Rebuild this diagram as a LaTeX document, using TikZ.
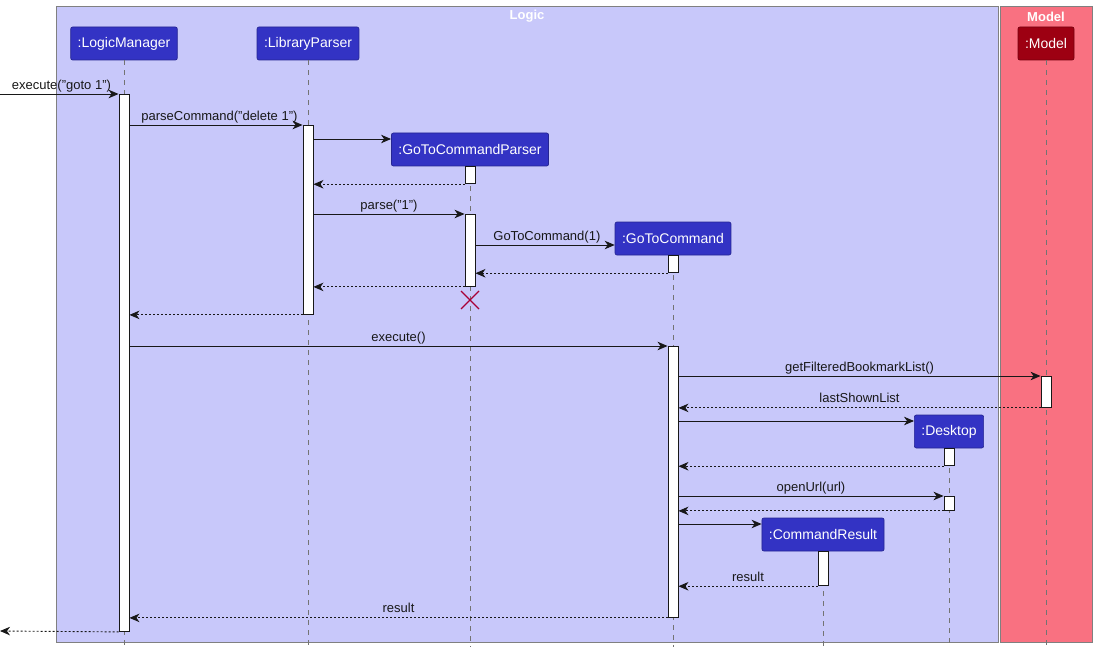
\documentclass[tikz,border=0pt]{standalone}
\usepackage{fontspec}
\setmainfont{Liberation Sans}
\usetikzlibrary{arrows.meta}
\usetikzlibrary{calc}

\definecolor{logicC}{HTML}{3333C4}
\definecolor{logicT}{HTML}{C8C8FA}
\definecolor{modelC}{HTML}{9D0012}
\definecolor{modelT}{HTML}{F97181}
\definecolor{ink}{HTML}{181818}
\definecolor{killC}{HTML}{A80036}

\begin{document}
\begin{tikzpicture}[x=1pt, y=-1pt,
  part/.style={draw=#1!75!black, fill=#1, text=white, rounded corners=2pt,
    minimum height=33pt, inner xsep=7pt, line width=0.7pt,
    font=\fontsize{14}{16}\selectfont},
  part/.default=logicC,
  life/.style={draw=gray!90!black, dash pattern=on 5pt off 5pt, line width=0.6pt},
  act/.style={draw=ink, fill=white, minimum width=10pt, inner sep=0pt, line width=0.9pt},
  msg/.style={draw=ink, line width=0.9pt, -{Stealth[length=10pt, width=8.5pt, inset=3pt]}},
  ret/.style={msg, dash pattern=on 2pt off 2pt},
  lbl/.style={font=\fontsize{13}{15}\selectfont, text=ink, inner sep=1.5pt, text depth=3pt, above},
  title/.style={font=\bfseries\fontsize{13}{15}\selectfont, text=white}
]
\useasboundingbox (0,0) rectangle (1097,655);

% the two boxes
\draw[fill=logicT, draw=gray, line width=0.8pt] (56,6) rectangle (998,642);
\draw[fill=modelT, draw=gray, line width=0.8pt] (1000,6) rectangle (1092,642);
\node[title] (logicT) at (527,16.5) {Logic};
\node[title] (modelT) at (1046,16.5) {Model};

% participants
\node[part] (lm) at (124,43.5) {:LogicManager};
\node[part] (lp) at (308,43.5) {:LibraryParser};
\node[part] (gcp) at (470,149.5) {:GoToCommandParser};
\node[part] (gc) at (673,238.5) {:GoToCommand};
\node[part] (desk) at (949,431.5) {:Desktop};
\node[part] (cr) at (823,534.5) {:CommandResult};
\node[part=modelC] (model) at (1046,43.5) {:Model};

% lifelines
\foreach \p in {lm,lp,gcp,gc,desk,cr,model}
  \draw[life] (\p.south) -- (\p.south |- 0,647);

% activations
\node[act, anchor=north, minimum height=537pt] (lmA) at (lm |- 0,94) {};
\node[act, anchor=north, minimum height=189pt] (lpA) at (lp |- 0,125) {};
\node[act, anchor=north, minimum height=17pt] (gcpA1) at (gcp.south) {};
\node[act, anchor=north, minimum height=72pt] (gcpA2) at (gcp |- 0,214) {};
\node[act, anchor=north, minimum height=17pt] (gcA1) at (gc.south) {};
\node[act, anchor=north, minimum height=271pt] (gcA2) at (gc |- 0,346) {};
\node[act, anchor=north, minimum height=31pt] (mA) at (model |- 0,376) {};
\node[act, anchor=north, minimum height=17pt] (deskA1) at (desk.south) {};
\node[act, anchor=north, minimum height=14pt] (deskA2) at (desk |- 0,496) {};
\node[act, anchor=north, minimum height=34pt] (crA) at (cr.south) {};

% messages
\coordinate (inL) at (0,94);
\coordinate (outL) at (0,631);
\draw[msg] (inL) -- node[lbl, pos=0, anchor=south west, xshift=10pt] {execute("goto 1")} (lmA.north west);
\draw[msg] (lmA.east |- 0,125) -- node[lbl, pos=0, anchor=south west, xshift=10pt] {parseCommand("delete 1")} (lpA.north west);
\draw[msg] (lpA.east |- 0,139) -- (gcp.west |- 0,139);
\draw[ret] (gcpA1.south west) -- (lpA.east |- gcpA1.south west);
\draw[msg] (lpA.east |- 0,214) -- node[lbl] {parse("1")} (gcpA2.north west);
\draw[msg] (gcpA2.east |- 0,245) -- node[lbl, pos=0, anchor=south west, xshift=16pt] {GoToCommand(1)} (gc.west |- 0,245);
\draw[ret] (gcA1.south west) -- (gcpA2.east |- gcA1.south west);
\draw[ret] (gcpA2.south west) -- (lpA.east |- gcpA2.south west);
\coordinate (gcpX) at (gcp |- 0,300);
\draw[killC, line width=1.3pt] ($(gcpX)+(-9,-9)$) -- ($(gcpX)+(9,9)$)
  ($(gcpX)+(-9,9)$) -- ($(gcpX)+(9,-9)$);
\draw[ret] (lpA.south west) -- (lmA.east |- lpA.south west);
\draw[msg] (lmA.east |- 0,346) -- node[lbl] {execute()} (gcA2.north west);
\draw[msg] (gcA2.east |- 0,376) -- node[lbl] {getFilteredBookmarkList()} (mA.north west);
\draw[ret] (mA.south west) -- node[lbl] {lastShownList} (gcA2.east |- mA.south west);
\draw[msg] (gcA2.east |- 0,421) -- (desk.west |- 0,421);
\draw[ret] (deskA1.south west) -- (gcA2.east |- deskA1.south west);
\draw[msg] (gcA2.east |- 0,496) -- node[lbl] {openUrl(url)} (deskA2.north west);
\draw[ret] (deskA2.south west) -- (gcA2.east |- deskA2.south west);
\draw[msg] (gcA2.east |- 0,524) -- (cr.west |- 0,524);
\draw[ret] (crA.south west) -- node[lbl] {result} (gcA2.east |- crA.south west);
\draw[ret] (gcA2.south west) -- node[lbl] {result} (lmA.east |- gcA2.south west);
\draw[ret] (lmA.south west) -- (outL);
\end{tikzpicture}
\end{document}
